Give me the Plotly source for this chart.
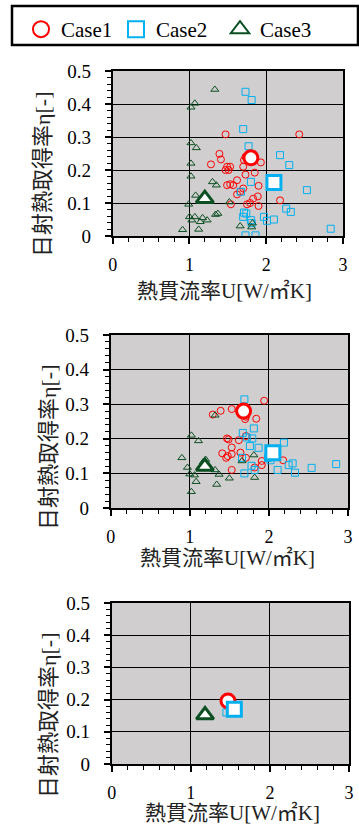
import plotly.graph_objects as go

# ---------------- data ----------------
# Panel 1
p1_c1_x = [1.47, 2.43, 1.39, 1.41, 1.28, 1.49, 1.53, 1.47, 1.51, 1.71, 1.70, 1.73, 1.93, 1.85, 1.73, 1.62,
           1.53, 1.49, 1.57, 1.70, 1.90, 1.62, 1.66, 1.89, 1.83, 2.18, 1.54, 1.75, 1.79, 1.90]
p1_c1_y = [0.308, 0.308, 0.249, 0.232, 0.217, 0.210, 0.210, 0.200, 0.200, 0.230, 0.210, 0.240, 0.223, 0.192,
           0.186, 0.169, 0.157, 0.154, 0.154, 0.144, 0.152, 0.126, 0.134, 0.120, 0.113, 0.108, 0.096, 0.096,
           0.100, 0.091]
p1_c2_x = [1.73, 1.81, 1.70, 1.77, 2.18, 2.30, 1.80, 2.53, 1.67, 2.26, 2.32, 1.71, 1.74, 1.70, 1.97, 2.01,
           2.10, 1.80, 1.81, 2.84, 1.73, 1.86]
p1_c2_y = [0.437, 0.412, 0.324, 0.272, 0.245, 0.215, 0.164, 0.139, 0.134, 0.083, 0.073, 0.071, 0.068, 0.058,
           0.058, 0.046, 0.050, 0.048, 0.039, 0.022, 0.002, 0.002]
p1_c3_x = [1.33, 1.07, 1.02, 1.02, 1.09, 1.02, 1.02, 1.30, 1.35, 1.08, 1.52, 0.99, 1.00, 1.07, 1.03, 1.17,
           1.23, 1.14, 1.34, 1.37, 1.82, 1.66, 1.81, 0.91, 1.12]
p1_c3_y = [0.444, 0.402, 0.390, 0.282, 0.267, 0.220, 0.181, 0.164, 0.154, 0.123, 0.103, 0.096, 0.058, 0.058,
           0.048, 0.055, 0.048, 0.043, 0.065, 0.068, 0.039, 0.030, 0.027, 0.019, 0.020]
p1_mean_x = [1.80, 2.10, 1.20]
p1_mean_y = [0.237, 0.162, 0.113]

# Panel 2
p2_c1_x = [1.94, 1.29, 1.39, 1.53, 1.70, 1.71, 1.84, 1.71, 1.47, 1.49, 1.62, 1.53, 1.41, 1.48, 1.46, 1.64,
           1.53, 1.71, 1.91, 2.18, 1.91, 1.53, 1.82]
p2_c1_y = [0.310, 0.270, 0.281, 0.286, 0.257, 0.264, 0.258, 0.208, 0.201, 0.198, 0.196, 0.175, 0.158, 0.150,
           0.145, 0.160, 0.156, 0.145, 0.136, 0.138, 0.124, 0.110, 0.117]
p2_c2_x = [1.69, 1.81, 1.67, 1.72, 1.79, 2.19, 1.76, 1.87, 1.66, 1.99, 2.02, 2.30, 2.25, 2.54, 2.85, 2.11,
           2.33, 1.69, 1.82, 1.78]
p2_c2_y = [0.314, 0.230, 0.217, 0.204, 0.201, 0.189, 0.179, 0.174, 0.145, 0.145, 0.138, 0.129, 0.124, 0.116,
           0.127, 0.110, 0.102, 0.100, 0.110, 0.122]
p2_c3_x = [1.32, 1.02, 1.11, 0.90, 0.97, 1.20, 1.17, 1.25, 1.32, 1.37, 1.00, 1.06, 1.08, 1.34, 1.50, 1.02,
           1.81, 1.66, 1.82]
p2_c3_y = [0.268, 0.210, 0.194, 0.145, 0.117, 0.140, 0.133, 0.117, 0.110, 0.097, 0.098, 0.095, 0.076, 0.068,
           0.086, 0.047, 0.153, 0.136, 0.088]
p2_mean_x = [1.68, 2.05, 1.19]
p2_mean_y = [0.280, 0.160, 0.120]

# Panel 3
p3_c1_x = [1.47]
p3_c1_y = [0.196]
p3_c2_x = [1.45]
p3_c2_y = [0.160]
p3_c3_x = [1.18]
p3_c3_y = [0.152]
p3_mean_x = [1.47, 1.55, 1.18]
p3_mean_y = [0.196, 0.170, 0.152]

case_names = ["Case1", "Case2", "Case3"]
x_ticks = [0, 1, 2, 3]
y_ticks = [0, 0.1, 0.2, 0.3, 0.4, 0.5]
y_tick_labels = ["0", "0.1", "0.2", "0.3", "0.4", "0.5"]
x_title = "熱貫流率U[W/㎡K]"
y_title = "日射熱取得率η[-]"

# ---------------- style ----------------
colors = ["#ff0000", "#00b0f0", "#0b4f22"]
open_syms = ["circle-open", "square-open", "triangle-up-open"]
solid_syms = ["circle", "square", "triangle-up"]
FONT = "Liberation Serif, 'Noto Sans CJK JP', serif"

panels = [
    ([p1_c1_x, p1_c2_x, p1_c3_x], [p1_c1_y, p1_c2_y, p1_c3_y], p1_mean_x, p1_mean_y),
    ([p2_c1_x, p2_c2_x, p2_c3_x], [p2_c1_y, p2_c2_y, p2_c3_y], p2_mean_x, p2_mean_y),
    ([p3_c1_x, p3_c2_x, p3_c3_x], [p3_c1_y, p3_c2_y, p3_c3_y], p3_mean_x, p3_mean_y),
]

W, H = 359, 827
def px_x(a, b):
    return [a / W, b / W]
def px_y(top, bot):
    return [1 - bot / H, 1 - top / H]

domains = [
    (px_x(112.7, 343), px_y(71, 236)),
    (px_x(110.7, 348), px_y(335, 508)),
    (px_x(111.7, 349), px_y(603, 764)),
]
# title centres (pixels): (x_title_x, x_title_y, y_title_x, y_title_y)
title_pos = [
    (224, 291, 43, 175),
    (228, 558, 48, 448),
    (232, 812.5, 48, 716),
]
legend_x_px = [21, 116, 220]

fig = go.Figure()

for i, (xs, ys, mx, my) in enumerate(panels):
    xa = "x" if i == 0 else f"x{i+1}"
    ya = "y" if i == 0 else f"y{i+1}"
    for k in range(3):
        fig.add_trace(go.Scatter(
            x=xs[k], y=ys[k], mode="markers", xaxis=xa, yaxis=ya,
            marker=dict(symbol=open_syms[k], size=7, color=colors[k], line=dict(width=1, color=colors[k])),
            showlegend=False, hoverinfo="skip"))
    for k in range(3):
        fig.add_trace(go.Scatter(
            x=[mx[k]], y=[my[k]], mode="markers", xaxis=xa, yaxis=ya,
            marker=dict(symbol=solid_syms[k], size=14 if k < 2 else 15, color="white",
                        line=dict(width=3, color=colors[k])),
            showlegend=False, hoverinfo="skip"))

# legend entries (one legend per case, placed like the reference)
legend_keys = ["legend", "legend2", "legend3"]
for k in range(3):
    fig.add_trace(go.Scatter(
        x=[None], y=[None], mode="markers", name=case_names[k], legend=legend_keys[k],
        marker=dict(symbol=open_syms[k], size=16, color=colors[k], line=dict(width=2, color=colors[k])),
        showlegend=True))

annotations = []
for i in range(3):
    xt, yt, yx, yy = title_pos[i]
    annotations.append(dict(text=x_title, xref="paper", yref="paper", x=xt / W, y=1 - yt / H,
                            xanchor="center", yanchor="middle", showarrow=False, borderpad=0,
                            font=dict(size=21, family=FONT, color="#222")))
    annotations.append(dict(text=y_title, xref="paper", yref="paper", x=yx / W, y=1 - yy / H,
                            xanchor="center", yanchor="middle", showarrow=False, textangle=-90, borderpad=0,
                            font=dict(size=22, family=FONT, color="#222")))

layout = dict(
    width=W, height=H,
    margin=dict(l=0, r=0, t=0, b=0, autoexpand=False),
    paper_bgcolor="white",
    font=dict(family=FONT, size=18, color="black"),
    showlegend=True,
    shapes=[dict(type="rect", xref="paper", yref="paper",
                 x0=12 / W, x1=358 / W, y0=1 - 45 / H, y1=1 - 6 / H,
                 line=dict(color="black", width=2.5), fillcolor="rgba(0,0,0,0)")],
    annotations=annotations,
)
for k in range(3):
    layout[legend_keys[k]] = dict(
        orientation="h", x=legend_x_px[k] / W, y=1 - 9 / H, xanchor="left", yanchor="top",
        font=dict(size=21, family=FONT), itemwidth=30,
        bgcolor="rgba(0,0,0,0)", borderwidth=0)

for i in range(3):
    xn = "xaxis" if i == 0 else f"xaxis{i+1}"
    yn = "yaxis" if i == 0 else f"yaxis{i+1}"
    ya_ref = "y" if i == 0 else f"y{i+1}"
    xa_ref = "x" if i == 0 else f"x{i+1}"
    layout[xn] = dict(
        domain=domains[i][0], anchor=ya_ref, range=[0, 3], automargin=False,
        tickvals=x_ticks, ticktext=[str(v) for v in x_ticks],
        ticks="outside", ticklen=6, tickwidth=1.5, tickcolor="black", ticklabelstandoff=5,
        minor=dict(ticks="outside", ticklen=4, dtick=0.2, tick0=0, tickcolor="black", tickwidth=1, showgrid=False),
        showline=True, linecolor="black", linewidth=2, mirror=True,
        showgrid=True, gridcolor="black", gridwidth=1.2, zeroline=False,
        tickfont=dict(size=18, family=FONT),
        fixedrange=True)
    layout[yn] = dict(
        domain=domains[i][1], anchor=xa_ref, range=[0, 0.5], automargin=False,
        tickvals=y_ticks, ticktext=y_tick_labels,
        ticks="outside", ticklen=6, tickwidth=1.5, tickcolor="black", ticklabelstandoff=10,
        minor=dict(ticks="outside", ticklen=4, dtick=0.02, tick0=0, tickcolor="black", tickwidth=1, showgrid=False),
        showline=True, linecolor="black", linewidth=2, mirror=True,
        showgrid=True, gridcolor="black", gridwidth=1.2, zeroline=False,
        tickfont=dict(size=19, family=FONT),
        fixedrange=True)

fig.update_layout(**layout)
fig.update_layout(plot_bgcolor="#d0cece")

fig.write_html("out.html", config={"displayModeBar": False},
               post_script="document.body.style.margin='0';document.body.style.overflow='hidden';")
